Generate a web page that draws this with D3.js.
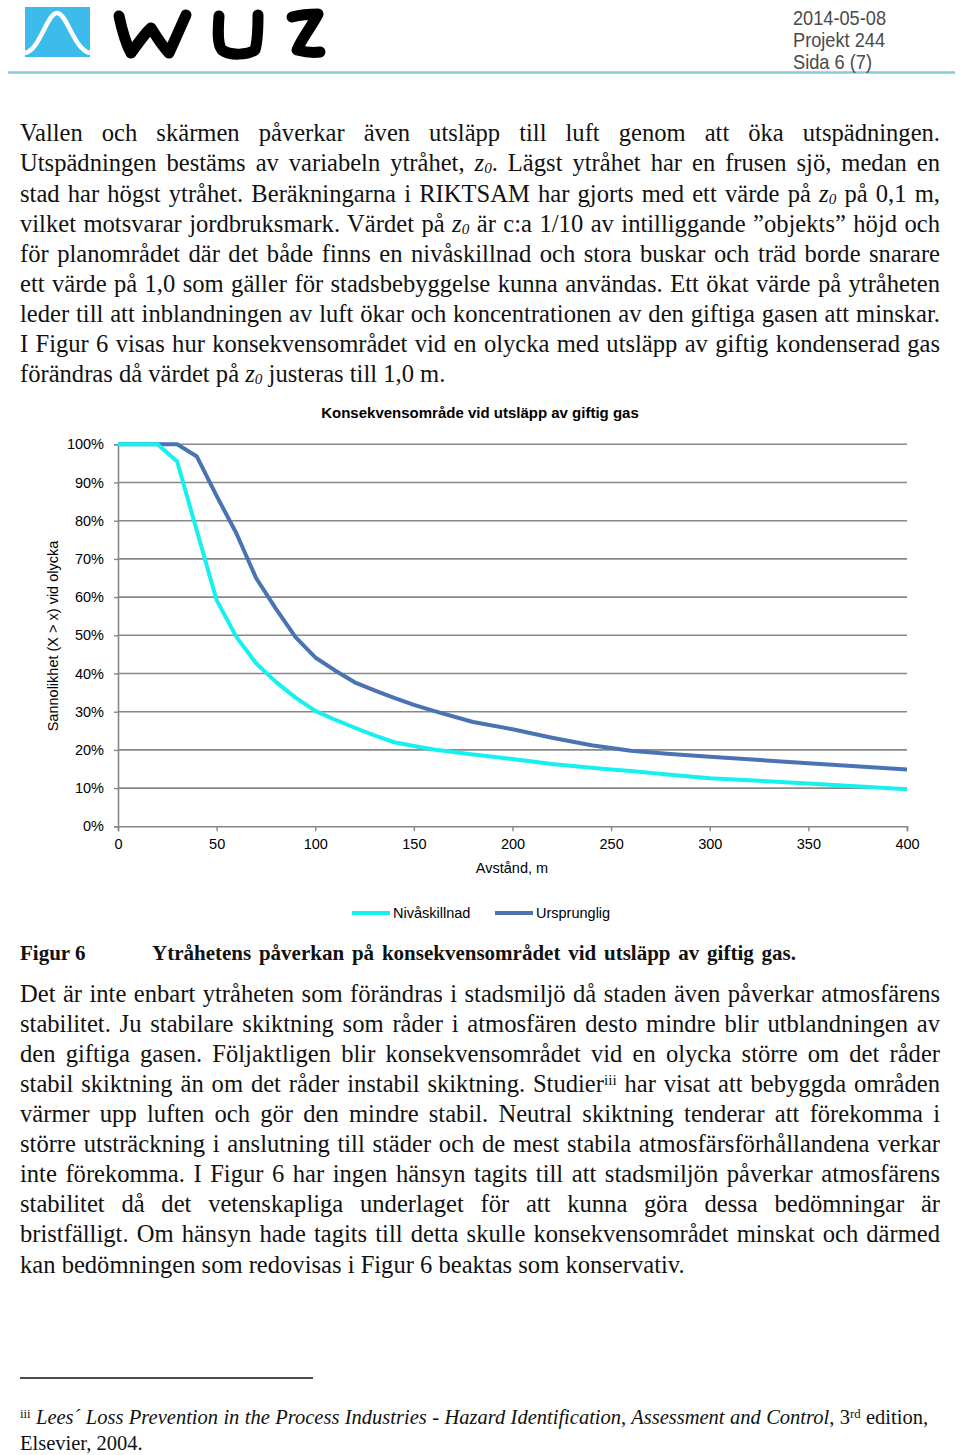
<!DOCTYPE html>
<html><head><meta charset="utf-8">
<script src="https://cdn.jsdelivr.net/npm/d3@7"></script>
<style>
html,body{margin:0;padding:0;background:#fff;}
#page{position:relative;width:960px;height:1455px;overflow:hidden;background:#fff;}
svg{position:absolute;left:0;top:0;}
.ln{position:absolute;font-family:"Liberation Serif","Times New Roman",serif;font-size:21px;line-height:30px;color:#111;white-space:nowrap;}
.fn{position:absolute;font-family:"Liberation Serif","Times New Roman",serif;font-size:19.5px;line-height:26px;color:#111;white-space:nowrap;}
.z{font-style:italic;}
.z sub{font-size:0.62em;vertical-align:-0.12em;line-height:0;}
sup{font-size:0.62em;vertical-align:0.45em;line-height:0;}
.b{font-weight:bold;}
</style></head>
<body><div id="page">
<svg id="svg" width="960" height="1455"></svg>
</div>
<script>
// ---------- data ----------
const distances = [0,10,20,30,40,50,60,70,80,90,100,110,120,130,140,150,160,180,200,220,240,250,260,280,300,350,400];
const nivaskillnad = [1.00,1.00,1.00,0.955,0.773,0.592,0.496,0.427,0.378,0.337,0.302,0.279,0.258,0.238,0.220,0.210,0.201,0.188,0.176,0.163,0.153,0.149,0.145,0.135,0.126,0.112,0.097];
const ursprunglig = [1.00,1.00,1.00,1.00,0.968,0.865,0.767,0.650,0.570,0.495,0.442,0.408,0.377,0.356,0.336,0.318,0.302,0.273,0.254,0.232,0.212,0.205,0.198,0.189,0.182,0.165,0.149];
const seriesNames = ["Nivåskillnad","Ursprunglig"];
const xTicks = [0,50,100,150,200,250,300,350,400];
const yTicks = [0,0.1,0.2,0.3,0.4,0.5,0.6,0.7,0.8,0.9,1.0];
const chartTitle = "Konsekvensområde vid utsläpp av giftig gas";
const xTitle = "Avstånd, m";
const yTitle = "Sannolikhet (X > x) vid olycka";
const headerLines = ["2014-05-08","Projekt 244","Sida 6 (7)"];

// ---------- body text ----------
const page = document.getElementById("page");
const z0 = '<span class="z">z<sub>0</sub></span>';
const para1 = [
 "Vallen och skärmen påverkar även utsläpp till luft genom att öka utspädningen.",
 "Utspädningen bestäms av variabeln ytråhet, "+z0+". Lägst ytråhet har en frusen sjö, medan en",
 "stad har högst ytråhet. Beräkningarna i RIKTSAM har gjorts med ett värde på "+z0+" på 0,1 m,",
 "vilket motsvarar jordbruksmark. Värdet på "+z0+" är c:a 1/10 av intilliggande ”objekts” höjd och",
 "för planområdet där det både finns en nivåskillnad och stora buskar och träd borde snarare",
 "ett värde på 1,0 som gäller för stadsbebyggelse kunna användas. Ett ökat värde på ytråheten",
 "leder till att inblandningen av luft ökar och koncentrationen av den giftiga gasen att minskar.",
 "I Figur 6 visas hur konsekvensområdet vid en olycka med utsläpp av giftig kondenserad gas",
 "förändras då värdet på "+z0+" justeras till 1,0 m."
];
const para2 = [
 "Det är inte enbart ytråheten som förändras i stadsmiljö då staden även påverkar atmosfärens",
 "stabilitet. Ju stabilare skiktning som råder i atmosfären desto mindre blir utblandningen av",
 "den giftiga gasen. Följaktligen blir konsekvensområdet vid en olycka större om det råder",
 "stabil skiktning än om det råder instabil skiktning. Studier<sup>iii</sup> har visat att bebyggda områden",
 "värmer upp luften och gör den mindre stabil. Neutral skiktning tenderar att förekomma i",
 "större utsträckning i anslutning till städer och de mest stabila atmosfärsförhållandena verkar",
 "inte förekomma. I Figur 6 har ingen hänsyn tagits till att stadsmiljön påverkar atmosfärens",
 "stabilitet då det vetenskapliga underlaget för att kunna göra dessa bedömningar är",
 "bristfälligt. Om hänsyn hade tagits till detta skulle konsekvensområdet minskat och därmed",
 "kan bedömningen som redovisas i Figur 6 beaktas som konservativ."
];

function addLine(cls, html, left, width, baseline, off, justify, fs){
  const d = document.createElement("div");
  d.className = cls;
  d.style.left = left+"px";
  if (fs) d.style.fontSize = fs+"px";
  d.style.top = (baseline-off)+"px";
  d.innerHTML = html;
  page.appendChild(d);
  if (justify){
    const natural = d.getBoundingClientRect().width;
    const spaces = (d.textContent.match(/ /g)||[]).length;
    if (spaces>0) d.style.wordSpacing = ((width-natural)/spaces)+"px";
  }
  return d;
}
function naturalWidth(cls, html, fs){
  const d = document.createElement("div");
  d.className = cls; d.style.left="0px"; d.style.top="-200px"; d.innerHTML = html;
  if (fs) d.style.fontSize = fs+"px";
  page.appendChild(d);
  const w = d.getBoundingClientRect().width;
  page.removeChild(d);
  return w;
}
// font size: match the natural width of the paragraph's last line, keep all full lines fitting
let fsBody = 21 * 426 / naturalWidth("ln", para1[para1.length-1], 21);
fsBody = Math.min(fsBody, 21 * 668 / naturalWidth("ln", para2[para2.length-1], 21));
[...para1.slice(0,-1), ...para2.slice(0,-1)].forEach(t=>{
  fsBody = Math.min(fsBody, 21 * 910 / naturalWidth("ln", t, 21));
});
const OFF = 22.1 + (fsBody-21)*0.34;
para1.forEach((t,i)=>{
  const last = i===para1.length-1;
  addLine("ln", t, 20, 920, 141.7+i*30.1, OFF, !last, fsBody);
});
para2.forEach((t,i)=>{
  const last = i===para2.length-1;
  addLine("ln", t, 20, 920, 1002+i*30.1, OFF, !last, fsBody);
});
addLine("ln b", "Figur 6", 20, 70, 960, 22.1, false, 21);
addLine("ln b", "Ytråhetens påverkan på konsekvensområdet vid utsläpp av giftig gas.", 152, 644, 960, 22.1, true, 21);
const fn1 = "<sup style='font-style:normal'>iii</sup> <i>Lees´ Loss Prevention in the Process Industries - Hazard Identification, Assessment and Control</i>, 3<sup>rd</sup> edition,";
let fsFn = Math.min(20.5, 19.5 * 904 / naturalWidth("fn", fn1, 19.5));
addLine("fn", fn1, 20, 908, 1424, 19.6 + (fsFn-19.5)*0.4, true, fsFn);
addLine("fn", "Elsevier, 2004.", 20, 127, 1450, 19.6 + (fsFn-19.5)*0.4, false, fsFn);

// ---------- svg ----------
const svg = d3.select("#svg");

// header logo
svg.append("rect").attr("x",25).attr("y",7).attr("width",65).attr("height",50).attr("fill","#3dbbea");
svg.append("path").attr("d","M25,53 C40,50 47,13 57,13 C67,13 74,50 90,53")
  .attr("fill","none").attr("stroke","#fff").attr("stroke-width",4.5);
const logoG = svg.append("g").attr("fill","none").attr("stroke","#000").attr("stroke-width",11)
  .attr("stroke-linecap","round").attr("stroke-linejoin","round");
logoG.append("path").attr("d","M119,16 C122,30 126,44 131,53 C138,44 144,34 151,28 C156,36 162,46 169,53 C175,40 181,26 186,15");
logoG.append("path").attr("d","M219,16 C218,30 217,44 222,50 C230,56 248,55 255,50 C258,40 258,26 258,15");
logoG.append("path").attr("d","M292,17 C300,15 310,14 318,14 C312,26 302,38 297,50 C305,52 313,53 320,52");
svg.append("line").attr("x1",8).attr("x2",955).attr("y1",72.5).attr("y2",72.5)
  .attr("stroke","#86cbe0").attr("stroke-width",2.5);
const hw = [93,92,79];
headerLines.forEach((t,i)=>{
  svg.append("text").attr("x",793).attr("y",24.5+i*22).attr("font-family","Liberation Sans, Arial, sans-serif")
    .attr("font-size",21).attr("fill","#4a4a4a").attr("textLength",hw[i]).attr("lengthAdjust","spacingAndGlyphs").text(t);
});

// footnote rule
svg.append("line").attr("x1",20).attr("x2",313).attr("y1",1378).attr("y2",1378).attr("stroke","#111").attr("stroke-width",1.3);

// chart
const font = "Liberation Sans, Arial, sans-serif";
const x = d3.scaleLinear().domain([0,400]).range([118,907]);
const y = d3.scaleLinear().domain([0,1]).range([826.3,444.3]);
const gridColor = "#888";
const ch = svg.append("g");
ch.append("text").attr("x",480).attr("y",418).attr("text-anchor","middle").attr("font-family",font)
  .attr("font-size",15).attr("font-weight","bold").attr("fill","#000").text(chartTitle);
ch.append("g").selectAll("line").data(yTicks.filter(d=>d>0)).join("line")
  .attr("x1",x(0)).attr("x2",x(400)).attr("y1",d=>y(d)).attr("y2",d=>y(d))
  .attr("stroke",gridColor).attr("stroke-width",1.6);
const ya = ch.append("g").attr("transform",`translate(${x(0)},0)`)
  .call(d3.axisLeft(y).tickValues(yTicks).tickFormat(d3.format(".0%")).tickSize(4).tickPadding(10));
const xa = ch.append("g").attr("transform",`translate(0,${y(0)})`)
  .call(d3.axisBottom(x).tickValues(xTicks).tickSize(5).tickPadding(7));
[ya,xa].forEach(a=>{
  a.select(".domain").attr("stroke",gridColor).attr("stroke-width",1.6);
  a.selectAll(".tick line").attr("stroke",gridColor).attr("stroke-width",1.4);
  a.selectAll(".tick text").attr("font-family",font).attr("font-size",14.5).attr("fill","#000");
});
ch.append("text").attr("x",512).attr("y",873).attr("text-anchor","middle").attr("font-family",font)
  .attr("font-size",14.5).attr("fill","#000").text(xTitle);
ch.append("text").attr("transform","translate(58,636) rotate(-90)").attr("text-anchor","middle")
  .attr("font-family",font).attr("font-size",14.5).attr("fill","#000").text(yTitle);

const colors = ["#16f0ee","#4a73b3"];
const seriesVals = [nivaskillnad, ursprunglig];
const line = d3.line().x((d,i)=>x(distances[i])).y(d=>y(d));
[1,0].forEach(k=>{
  ch.append("path").attr("d",line(seriesVals[k])).attr("fill","none")
    .attr("stroke",colors[k]).attr("stroke-width",4).attr("stroke-linejoin","round");
});
const legX = [352,495];
seriesNames.forEach((n,k)=>{
  ch.append("line").attr("x1",legX[k]).attr("x2",legX[k]+38).attr("y1",913).attr("y2",913)
    .attr("stroke",colors[k]).attr("stroke-width",4);
  ch.append("text").attr("x",legX[k]+41).attr("y",918).attr("font-family",font)
    .attr("font-size",14.5).attr("fill","#000").text(n);
});
</script>
</body></html>
